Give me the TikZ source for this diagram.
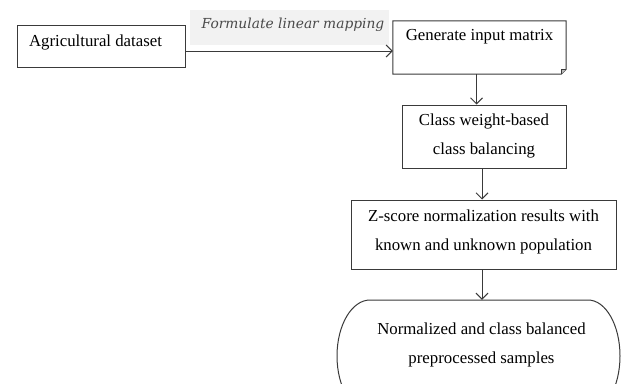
\documentclass[tikz,border=0pt]{standalone}
\usepackage{fontspec}
\setmainfont{Liberation Serif}
\newfontfamily\labelfont{DejaVu Serif}
\usetikzlibrary{arrows.meta}
\definecolor{lineclr}{HTML}{3A3A3A}
\definecolor{labelbg}{HTML}{F2F2F2}
\definecolor{labeltxt}{HTML}{4A4A4A}
\begin{document}
\begin{tikzpicture}[x=1pt,y=-1pt,
  shapebox/.style={draw=lineclr, line width=1pt, rectangle, inner sep=0pt},
  hidden/.style={draw=none, rectangle, inner sep=0pt},
  txt/.style={align=center, inner sep=0pt, font=\fontsize{16.8}{29}\selectfont},
  arr/.style={draw=lineclr, line width=1pt, -{Straight Barb[length=6pt,width=12pt,line width=1pt]}}
]
\useasboundingbox[fill=white] (0,0) rectangle (623,383);

% Agricultural dataset
\node[shapebox, minimum width=168pt, minimum height=42pt] (ag) at (101,46) {};
\node[txt, anchor=center] (agt) at (95.5,42) {Agricultural dataset};

% Label with grey background
\node[fill=labelbg, minimum width=199pt, minimum height=35pt, inner sep=0pt] (lblbg) at (289.5,27.5) {};
\node[inner sep=0pt, text=labeltxt, font=\labelfont\itshape\fontsize{13.8}{16}\selectfont] (lbl) at (293,25) {Formulate linear mapping};

% Generate input matrix (folded corner)
\node[hidden, minimum width=173pt, minimum height=53pt] (gen) at (479.5,47.5) {};
\draw[draw=lineclr, line width=1pt, line join=miter] (gen.north west) -- (gen.north east) -- ([yshift=5pt]gen.south east) -- ([xshift=-5pt]gen.south east) -- (gen.south west) -- cycle;
\fill[lineclr!35] ([yshift=5pt]gen.south east) -- ([xshift=-5pt]gen.south east) -- ([xshift=-5pt,yshift=5pt]gen.south east) -- cycle;
\draw[draw=lineclr, line width=0.6pt] ([yshift=5pt]gen.south east) -- ([xshift=-5pt,yshift=5pt]gen.south east) -- ([xshift=-5pt]gen.south east);
\node[txt] (gent) at (479.5,36.5) {Generate input matrix};

% Class weight-based class balancing
\node[shapebox, minimum width=164pt, minimum height=63pt] (cw) at (484,136.5) {};
\node[txt] (cwt) at (484,135.5) {Class weight-based\\class balancing};

% Z-score
\node[shapebox, minimum width=265pt, minimum height=69pt] (zs) at (483.5,234.5) {};
\node[txt] (zst) at (483.5,231.5) {Z-score normalization results with\\known and unknown population};

% Terminal
\node[hidden, minimum width=283pt, minimum height=112pt] (out) at (478.5,356) {};
\draw[draw=lineclr, line width=1pt]
  (370,300) -- (588,300)
  .. controls (605.7,300) and (620,325) .. (620,356)
  .. controls (620,387) and (605.7,412) .. (588,412)
  -- (370,412)
  .. controls (351.8,412) and (337,387) .. (337,356)
  .. controls (337,325) and (351.8,300) .. (370,300) -- cycle;
\node[txt] (outt) at (481.5,344.5) {Normalized and class balanced\\preprocessed samples};

% Connectors
\draw[arr] ([yshift=-5pt]ag.east) -- ([yshift=-5pt]ag.east -| gen.west);
\draw[arr] ([xshift=-3pt]gen.south) -- ([xshift=-3pt]gen.south |- cw.north);
\draw[arr] ([xshift=-2pt]cw.south) -- ([xshift=-2pt]cw.south |- zs.north);
\draw[arr] ([xshift=-1.5pt]zs.south) -- ([xshift=-1.5pt]zs.south |- out.north);
\end{tikzpicture}
\end{document}
